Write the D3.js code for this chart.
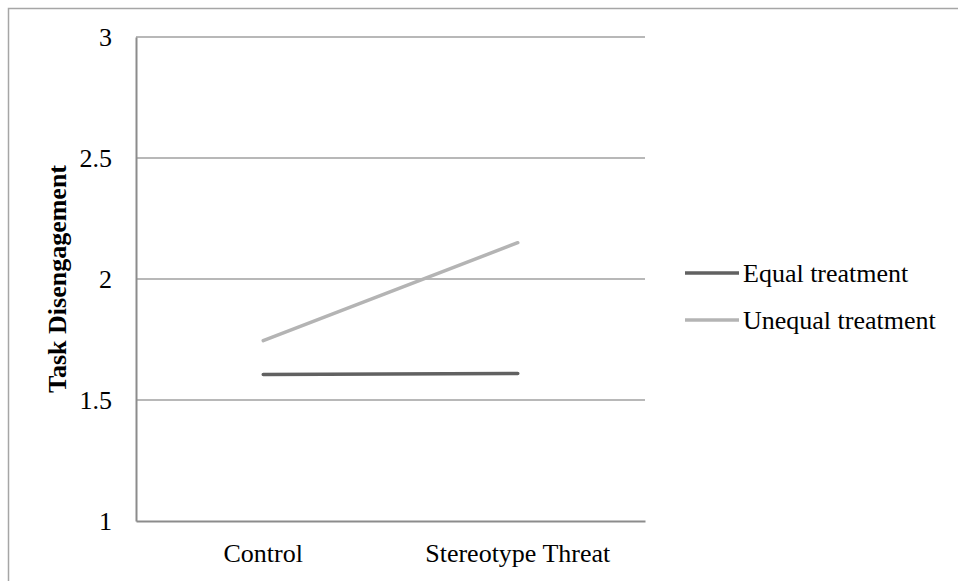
<!DOCTYPE html>
<html>
<head>
<meta charset="utf-8">
<script src="https://cdn.jsdelivr.net/npm/d3@7"></script>
<style>
  html, body { margin: 0; padding: 0; background: #fff; }
  svg text { font-family: "Liberation Serif", "Times New Roman", serif; fill: #000; }
</style>
</head>
<body>
<svg id="chart" width="958" height="581"></svg>
<script>
// Conditions on the x axis
const categories = ["Control", "Stereotype Threat"];
// Mean task disengagement per condition
const equalTreatment = [1.605, 1.61];
const unequalTreatment = [1.745, 2.15];
const seriesNames = ["Equal treatment", "Unequal treatment"];
const yTicks = [1, 1.5, 2, 2.5, 3];

const series = [
  { name: seriesNames[0], values: equalTreatment, color: "#616161" },
  { name: seriesNames[1], values: unequalTreatment, color: "#b4b4b4" }
];

const serif = "'Liberation Serif', 'Times New Roman', serif";
const fontSize = 26;

const svg = d3.select("#chart");

// Outer frame
svg.append("rect")
  .attr("x", 8.5).attr("y", 8.5)
  .attr("width", 958).attr("height", 581)
  .attr("fill", "none").attr("stroke", "#a6a6a6").attr("stroke-width", 1.5);

const plot = { left: 136, right: 645, top: 37, bottom: 521 };

const x = d3.scaleBand().domain(categories).range([plot.left, plot.right]);
const y = d3.scaleLinear().domain([1, 3]).range([plot.bottom, plot.top]);

// Horizontal gridlines
svg.append("g")
  .selectAll("line")
  .data(yTicks.filter(t => t > 1))
  .join("line")
  .attr("x1", plot.left).attr("x2", plot.right)
  .attr("y1", d => y(d)).attr("y2", d => y(d))
  .attr("stroke", "#a0a0a0").attr("stroke-width", 1.3);

// Y axis
const yAxis = svg.append("g")
  .attr("transform", `translate(${plot.left},0)`)
  .attr("font-family", serif)
  .call(d3.axisLeft(y).tickValues(yTicks).tickFormat(d3.format("")).tickSize(0).tickPadding(24));
yAxis.attr("font-family", serif).attr("font-size", fontSize);
yAxis.select(".domain").attr("stroke", "#8c8c8c").attr("stroke-width", 2);
yAxis.selectAll("text").attr("fill", "#000").attr("dy", "0.34em");

// X axis
const xAxis = svg.append("g")
  .attr("transform", `translate(0,${plot.bottom})`)
  .call(d3.axisBottom(x).tickSize(0).tickPadding(0));
xAxis.attr("font-family", serif).attr("font-size", fontSize);
xAxis.select(".domain").attr("stroke", "#8c8c8c").attr("stroke-width", 2);
xAxis.selectAll("text").attr("fill", "#000").attr("dy", null).attr("y", 41);

// Y axis title
svg.append("text")
  .attr("transform", `translate(66,${(plot.top + plot.bottom) / 2}) rotate(-90)`)
  .attr("text-anchor", "middle")
  .attr("font-family", serif)
  .attr("font-size", fontSize)
  .attr("font-weight", "bold")
  .text("Task Disengagement");

// Series lines
const line = d3.line()
  .x((d, i) => x(categories[i]) + x.bandwidth() / 2)
  .y(d => y(d));

svg.append("g")
  .selectAll("path")
  .data(series)
  .join("path")
  .attr("d", d => line(d.values))
  .attr("fill", "none")
  .attr("stroke", d => d.color)
  .attr("stroke-width", 3.5)
  .attr("stroke-linecap", "round");

// Legend
const legend = svg.append("g")
  .selectAll("g")
  .data(series)
  .join("g")
  .attr("transform", (d, i) => `translate(685,${273 + i * 47})`);
legend.append("line")
  .attr("x1", 0).attr("x2", 54)
  .attr("stroke", d => d.color).attr("stroke-width", 3.5);
legend.append("text")
  .attr("x", 58).attr("y", 9)
  .attr("font-family", serif)
  .attr("font-size", fontSize)
  .text(d => d.name);
</script>
</body>
</html>
